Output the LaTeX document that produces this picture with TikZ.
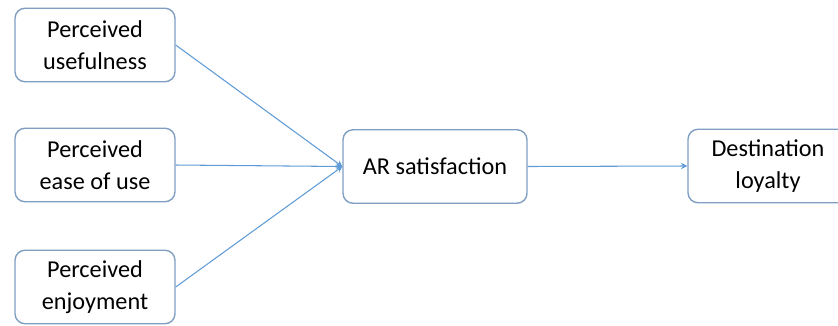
\documentclass[tikz,border=0pt]{standalone}
\usepackage{fontspec}
\setmainfont{Carlito}
\usetikzlibrary{arrows}

\definecolor{boxline}{RGB}{128,158,194}
\definecolor{arrowline}{RGB}{95,155,215}

\begin{document}
\begin{tikzpicture}[x=0.02cm, y=-0.02cm,
    block/.style={draw=boxline, line width=0.8pt, rounded corners=0.2cm, fill=white,
      minimum width=3.2cm, minimum height=1.47cm, align=center,
      font=\fontsize{13.8}{18.2}\selectfont},
    link/.style={draw=arrowline, line width=0.6pt, ->, >=stealth}]

          \useasboundingbox (0, 0) rectangle (838, 325);

          \node[block] (useful) at (95, 45) {Perceived\\usefulness};
          \node[block] (ease) at (95, 165) {Perceived\\ease of use};
          \node[block] (enjoy) at (95, 287) {Perceived\\enjoyment};
          \node[block, minimum width=3.68cm] (satis) at (435, 166.5) {AR satisfaction};
          \node[block] (loyal) at (768, 166) {Destination\\loyalty};

          \draw[link] (useful.east) -- (satis.west);
          \draw[link] (ease.east) -- (satis.west);
          \draw[link] (enjoy.east) -- (satis.west);
          \draw[link] (satis.east) -- (loyal.west);

        \end{tikzpicture}
\end{document}
